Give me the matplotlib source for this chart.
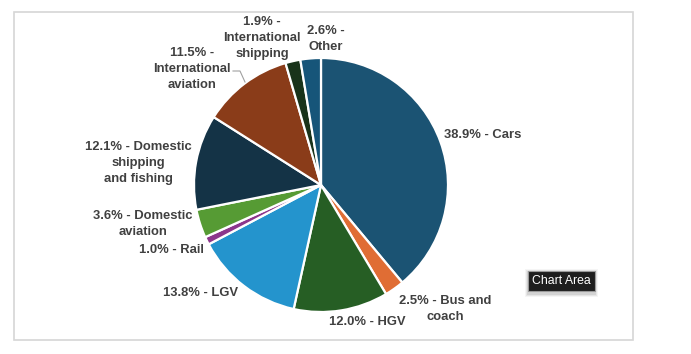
import matplotlib
matplotlib.use("Agg")
import matplotlib.pyplot as plt
from matplotlib.patches import Rectangle

categories = ["Cars", "Bus and coach", "HGV", "LGV", "Rail", "Domestic aviation",
              "Domestic shipping and fishing", "International aviation",
              "International shipping", "Other"]
values = [38.9, 2.5, 12.0, 13.8, 1.0, 3.6, 12.1, 11.5, 1.9, 2.6]
label_texts = ["38.9% - Cars", "2.5% - Bus and\ncoach", "12.0% - HGV", "13.8% - LGV",
               "1.0% - Rail", "3.6% - Domestic\naviation",
               "12.1% - Domestic\nshipping\nand fishing",
               "11.5% -\nInternational\naviation",
               "1.9% -\nInternational\nshipping", "2.6% -\nOther"]
colors = ["#1b5373", "#e06d34", "#265e24", "#2494cd", "#8c368c", "#569b34",
          "#143346", "#8a3c19", "#19331a", "#165579"]

W, H = 691, 354
fig = plt.figure(figsize=(W / 100, H / 100), dpi=100)
ax = fig.add_axes([0, 0, 1, 1])

def Y(y):
    return H - y

ax.pie(values, colors=colors, startangle=90, counterclock=False,
       center=(321, Y(185)), radius=127,
       wedgeprops=dict(edgecolor="white", linewidth=1.6), frame=True)
ax.set_xlim(0, W)
ax.set_ylim(0, H)
ax.set_aspect("equal")
ax.axis("off")

# chart area border
ax.add_patch(Rectangle((14, Y(340)), 619, 328, fill=False, ec="#d6d6d6", lw=1.2))

# label positions (pixel coords), alignment
pos = [(444, 135, "left"), (445, 309, "center"), (367, 322, "center"),
       (238, 293, "right"), (204, 250, "right"), (143, 224, "center"),
       (138, 163, "center"), (192, 69, "center"), (262, 38, "center"),
       (326, 39, "center")]
fnt = dict(family=["Liberation Sans", "DejaVu Sans"], fontsize=9.4,
           fontweight="bold", color="#404040")
for (x, y, ha), t in zip(pos, label_texts):
    ax.text(x, Y(y), t, ha=ha, va="center", linespacing=1.4,
            multialignment="center", **fnt)

# leader line for International aviation
ax.plot([233, 240, 245], [Y(71), Y(71), Y(82)], color="#a0a0a0", lw=0.8)

# tooltip
for i, a in enumerate([0.08, 0.12, 0.18]):
    d = 4 - i
    ax.add_patch(Rectangle((528 - d + 1, Y(293 + d)), 67 + 2 * d - 2, 20 + 2 * d,
                           fc="#808080", ec="none", alpha=a))
ax.add_patch(Rectangle((528, Y(291)), 67, 20, fc="#1e1e1e", ec="#9a9a9a", lw=0.8))
ax.text(561.5, Y(281), "Chart Area", ha="center", va="center", color="white",
        family=["Liberation Sans", "DejaVu Sans"], fontsize=8.8)

fig.savefig("out.png", dpi=100)
